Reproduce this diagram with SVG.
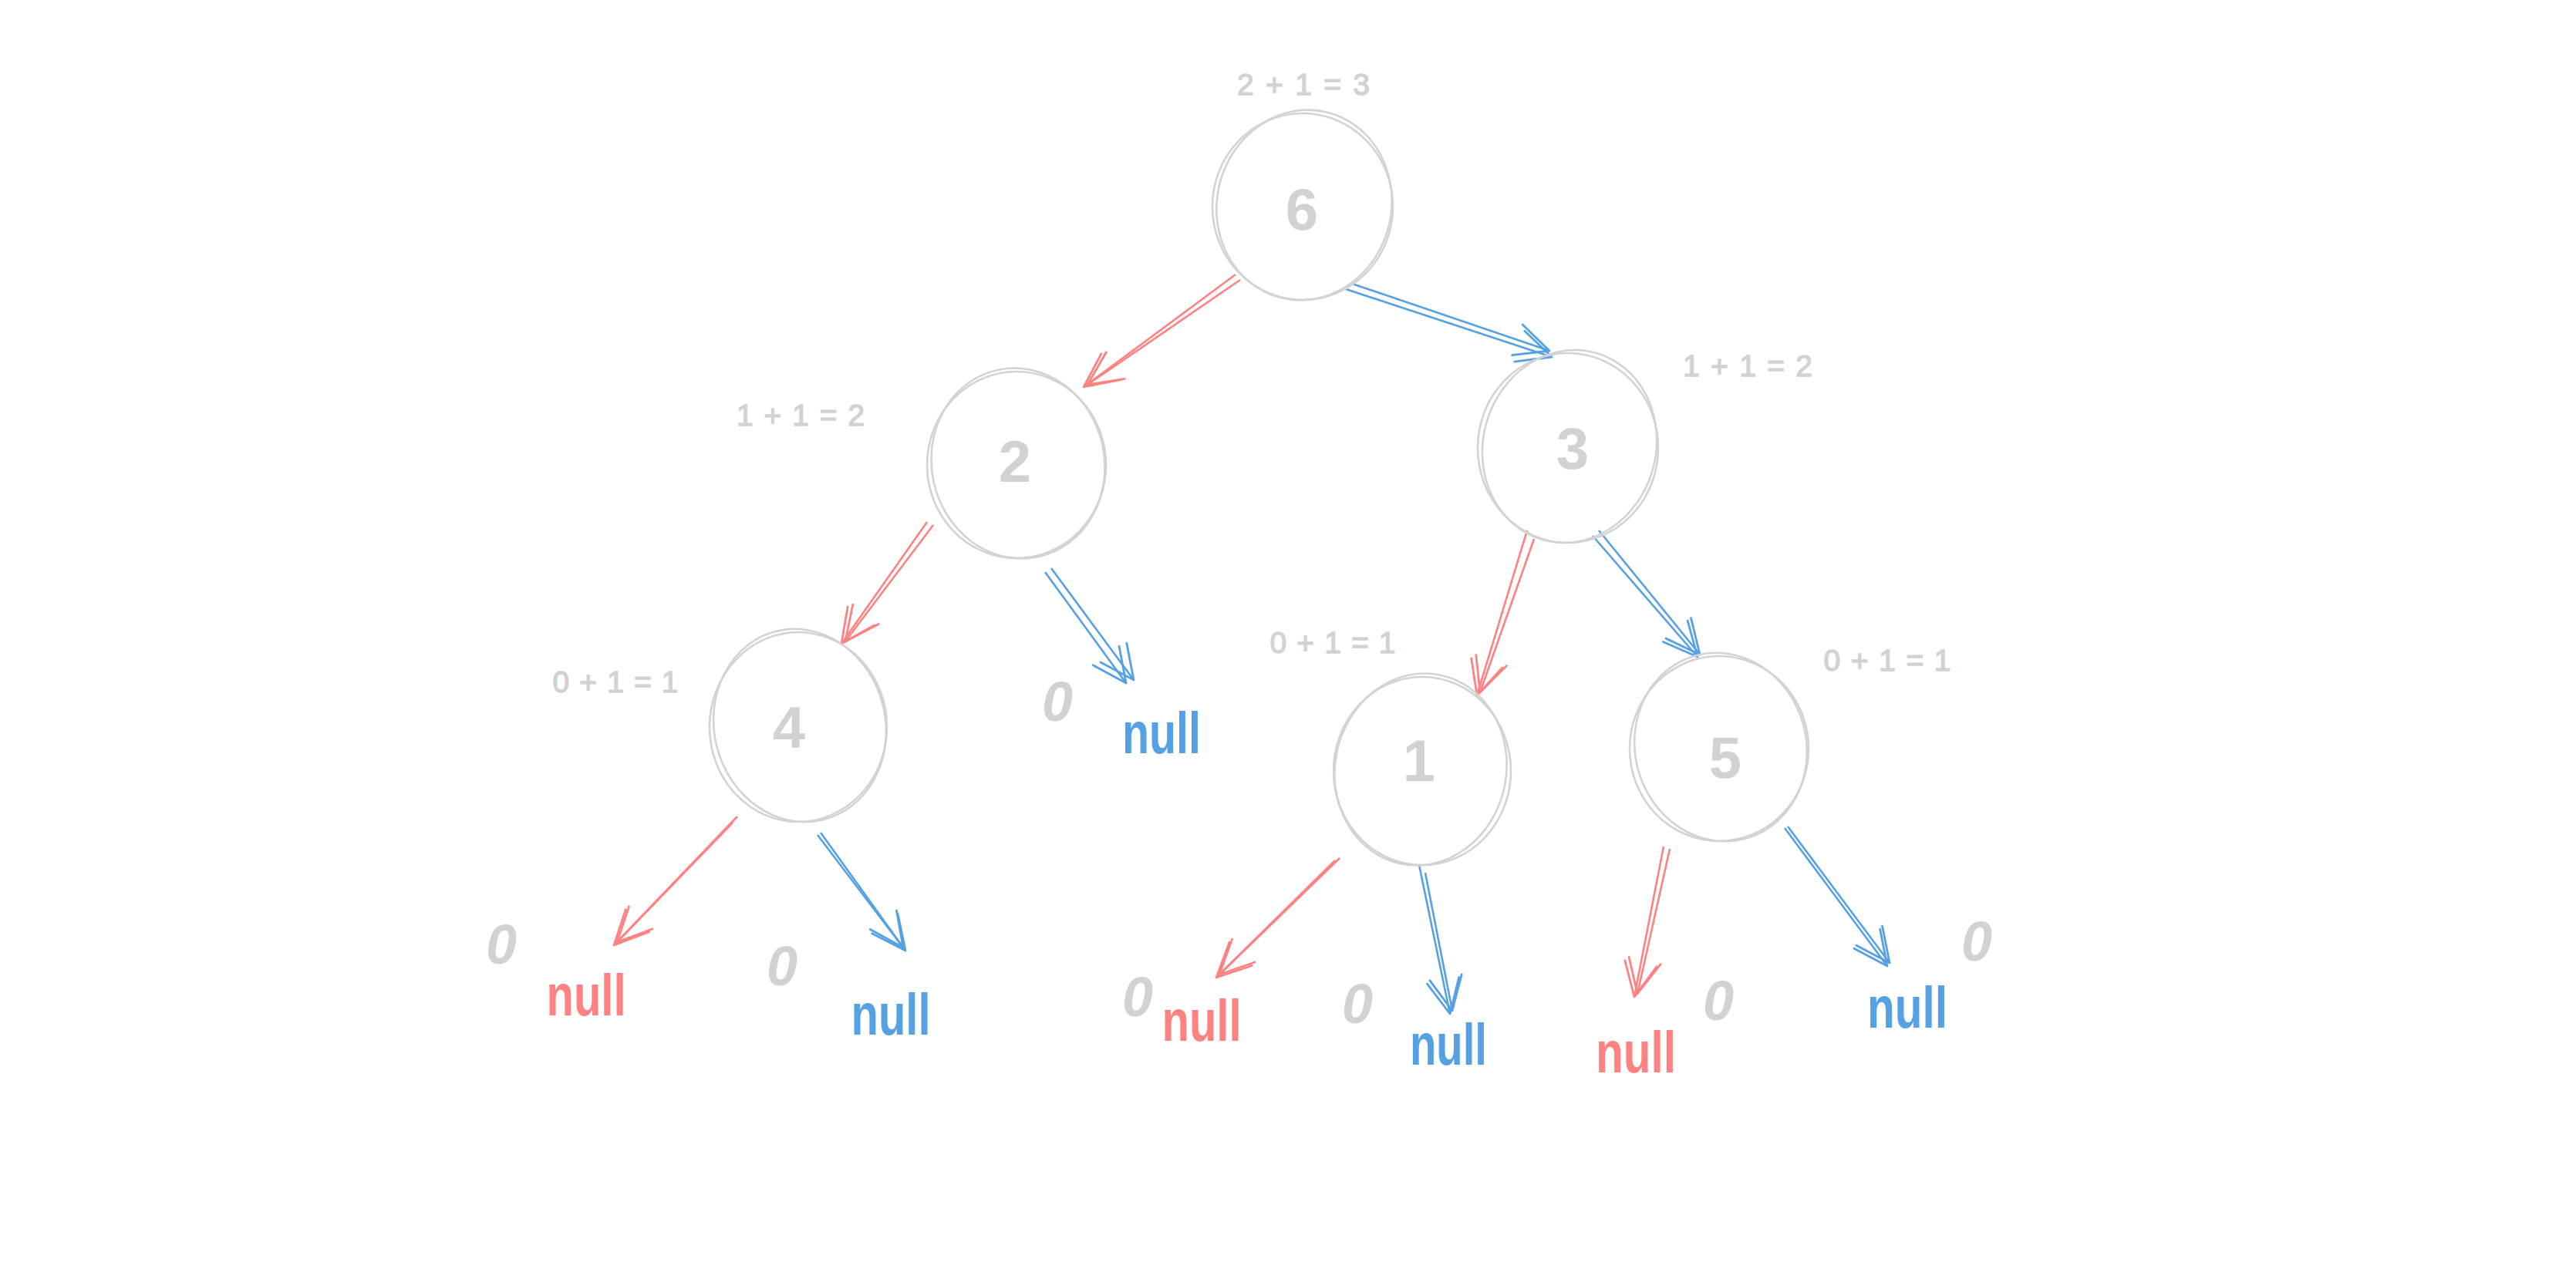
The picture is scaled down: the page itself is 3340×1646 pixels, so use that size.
<svg xmlns="http://www.w3.org/2000/svg" width="3340" height="1646" viewBox="0 0 3340 1646">
<style>
.ring{fill:none;stroke:#d3d3d3;stroke-width:2.6}
.num{font-family:"Liberation Sans",Arial,sans-serif;font-weight:bold;font-size:76px;fill:#d2d2d5;text-anchor:middle}
.eq{font-family:"Liberation Sans",Arial,sans-serif;font-size:39px;fill:#d2d2d5;stroke:#d2d2d5;stroke-width:1.4;text-anchor:middle}
.zero{font-family:"Liberation Sans",Arial,sans-serif;font-weight:bold;font-style:italic;font-size:72px;fill:#d2d2d5;text-anchor:middle}
.null{font-family:"Liberation Sans",Arial,sans-serif;font-weight:bold;font-size:76px;text-anchor:middle}
.red{fill:#ff8282}
.blue{fill:#56a0e4}
.lr{fill:none;stroke:#ff8282;stroke-width:2.6;marker-end:url(#hr)}
.lb{fill:none;stroke:#56a0e4;stroke-width:2.6;marker-end:url(#hb)}
</style>
<defs>
<marker id="hr" markerUnits="userSpaceOnUse" markerWidth="52" markerHeight="46" viewBox="0 0 52 46" refX="48" refY="23" orient="auto">
<path d="M4,2 L48,23 L4,44" fill="none" stroke="#ff8282" stroke-width="2.8" stroke-linecap="round" stroke-linejoin="round"/>
</marker>
<marker id="hb" markerUnits="userSpaceOnUse" markerWidth="52" markerHeight="46" viewBox="0 0 52 46" refX="48" refY="23" orient="auto">
<path d="M4,2 L48,23 L4,44" fill="none" stroke="#56a0e4" stroke-width="2.8" stroke-linecap="round" stroke-linejoin="round"/>
</marker>
</defs>
<rect width="3340" height="1646" fill="#ffffff"/>

<g id="connectors">
<line class="lr" x1="1602" y1="356" x2="1405" y2="502"/>
<line class="lr" x1="1608" y1="363" x2="1410" y2="499"/>
<line class="lb" x1="1753" y1="368" x2="2009" y2="455"/>
<line class="lb" x1="1745" y1="375" x2="2012" y2="463"/>
<line class="lr" x1="1202" y1="677" x2="1091" y2="835"/>
<line class="lr" x1="1210" y1="681" x2="1096" y2="832"/>
<line class="lb" x1="1363" y1="737" x2="1470" y2="882"/>
<line class="lb" x1="1355" y1="742" x2="1460" y2="886"/>
<line class="lr" x1="1980" y1="688" x2="1915" y2="902"/>
<line class="lr" x1="1989" y1="699" x2="1919" y2="898"/>
<line class="lb" x1="2073" y1="688" x2="2204" y2="849"/>
<line class="lb" x1="2065" y1="695" x2="2201" y2="852"/>
<line class="lr" x1="956" y1="1059" x2="796" y2="1226"/>
<line class="lr" x1="950" y1="1067" x2="800" y2="1222"/>
<line class="lb" x1="1060" y1="1083" x2="1174" y2="1233"/>
<line class="lb" x1="1064" y1="1080" x2="1171" y2="1229"/>
<line class="lr" x1="1737" y1="1113" x2="1577" y2="1268"/>
<line class="lr" x1="1731" y1="1116" x2="1581" y2="1264"/>
<line class="lb" x1="1840" y1="1122" x2="1880" y2="1315"/>
<line class="lb" x1="1848" y1="1132" x2="1883" y2="1311"/>
<line class="lr" x1="2157" y1="1098" x2="2119" y2="1293"/>
<line class="lr" x1="2165" y1="1101" x2="2123" y2="1289"/>
<line class="lb" x1="2314" y1="1074" x2="2447" y2="1253"/>
<line class="lb" x1="2318" y1="1072" x2="2450" y2="1249"/>
</g>

<g id="node-6">
<ellipse class="ring" cx="1689" cy="268" rx="117" ry="121"/>
<ellipse class="ring" cx="1691" cy="266" rx="113" ry="124" transform="rotate(14 1691 266)"/>
<text class="num" x="1688" y="298">6</text>
<text class="eq" x="1690" y="123" textLength="172" lengthAdjust="spacing">2 + 1 = 3</text>
</g>

<g id="node-2">
<ellipse class="ring" cx="1318" cy="603" rx="116" ry="121"/>
<ellipse class="ring" cx="1320" cy="601" rx="112" ry="124" transform="rotate(-12 1320 601)"/>
<text class="num" x="1316" y="625">2</text>
<text class="eq" x="1038" y="552" textLength="166" lengthAdjust="spacing">1 + 1 = 2</text>
</g>

<g id="node-3">
<ellipse class="ring" cx="2033" cy="581" rx="117" ry="123"/>
<ellipse class="ring" cx="2035" cy="579" rx="112" ry="126" transform="rotate(16 2035 579)"/>
<text class="num" x="2039" y="608">3</text>
<text class="eq" x="2266" y="488" textLength="168" lengthAdjust="spacing">1 + 1 = 2</text>
</g>

<g id="node-4">
<ellipse class="ring" cx="1035" cy="943" rx="115" ry="123"/>
<ellipse class="ring" cx="1037" cy="941" rx="111" ry="126" transform="rotate(-14 1037 941)"/>
<text class="num" x="1023" y="970">4</text>
<text class="eq" x="798" y="898" textLength="163" lengthAdjust="spacing">0 + 1 = 1</text>
</g>

<g id="node-1">
<ellipse class="ring" cx="1844" cy="1000" rx="115" ry="122"/>
<ellipse class="ring" cx="1842" cy="998" rx="111" ry="125" transform="rotate(12 1842 998)"/>
<text class="num" x="1840" y="1013">1</text>
<text class="eq" x="1728" y="847" textLength="163" lengthAdjust="spacing">0 + 1 = 1</text>
</g>

<g id="node-5">
<ellipse class="ring" cx="2229" cy="971" rx="116" ry="120"/>
<ellipse class="ring" cx="2231" cy="969" rx="111" ry="123" transform="rotate(-15 2231 969)"/>
<text class="num" x="2237" y="1009">5</text>
<text class="eq" x="2447" y="870" textLength="165" lengthAdjust="spacing">0 + 1 = 1</text>
</g>

<g id="leaf-2-right">
<text class="zero" x="1371" y="935">0</text>
<text class="null blue" x="1506" y="977" textLength="102" lengthAdjust="spacingAndGlyphs">null</text>
</g>
<g id="leaf-4-left">
<text class="zero" x="650" y="1250">0</text>
<text class="null red" x="760" y="1317" textLength="103" lengthAdjust="spacingAndGlyphs">null</text>
</g>
<g id="leaf-4-right">
<text class="zero" x="1014" y="1278">0</text>
<text class="null blue" x="1155" y="1342" textLength="103" lengthAdjust="spacingAndGlyphs">null</text>
</g>
<g id="leaf-1-left">
<text class="zero" x="1475" y="1318">0</text>
<text class="null red" x="1558" y="1350" textLength="103" lengthAdjust="spacingAndGlyphs">null</text>
</g>
<g id="leaf-1-right">
<text class="zero" x="1760" y="1327">0</text>
<text class="null blue" x="1878" y="1381" textLength="100" lengthAdjust="spacingAndGlyphs">null</text>
</g>
<g id="leaf-5-left">
<text class="zero" x="2228" y="1323">0</text>
<text class="null red" x="2121" y="1391" textLength="104" lengthAdjust="spacingAndGlyphs">null</text>
</g>
<g id="leaf-5-right">
<text class="zero" x="2563" y="1246">0</text>
<text class="null blue" x="2473" y="1333" textLength="104" lengthAdjust="spacingAndGlyphs">null</text>
</g>
</svg>
